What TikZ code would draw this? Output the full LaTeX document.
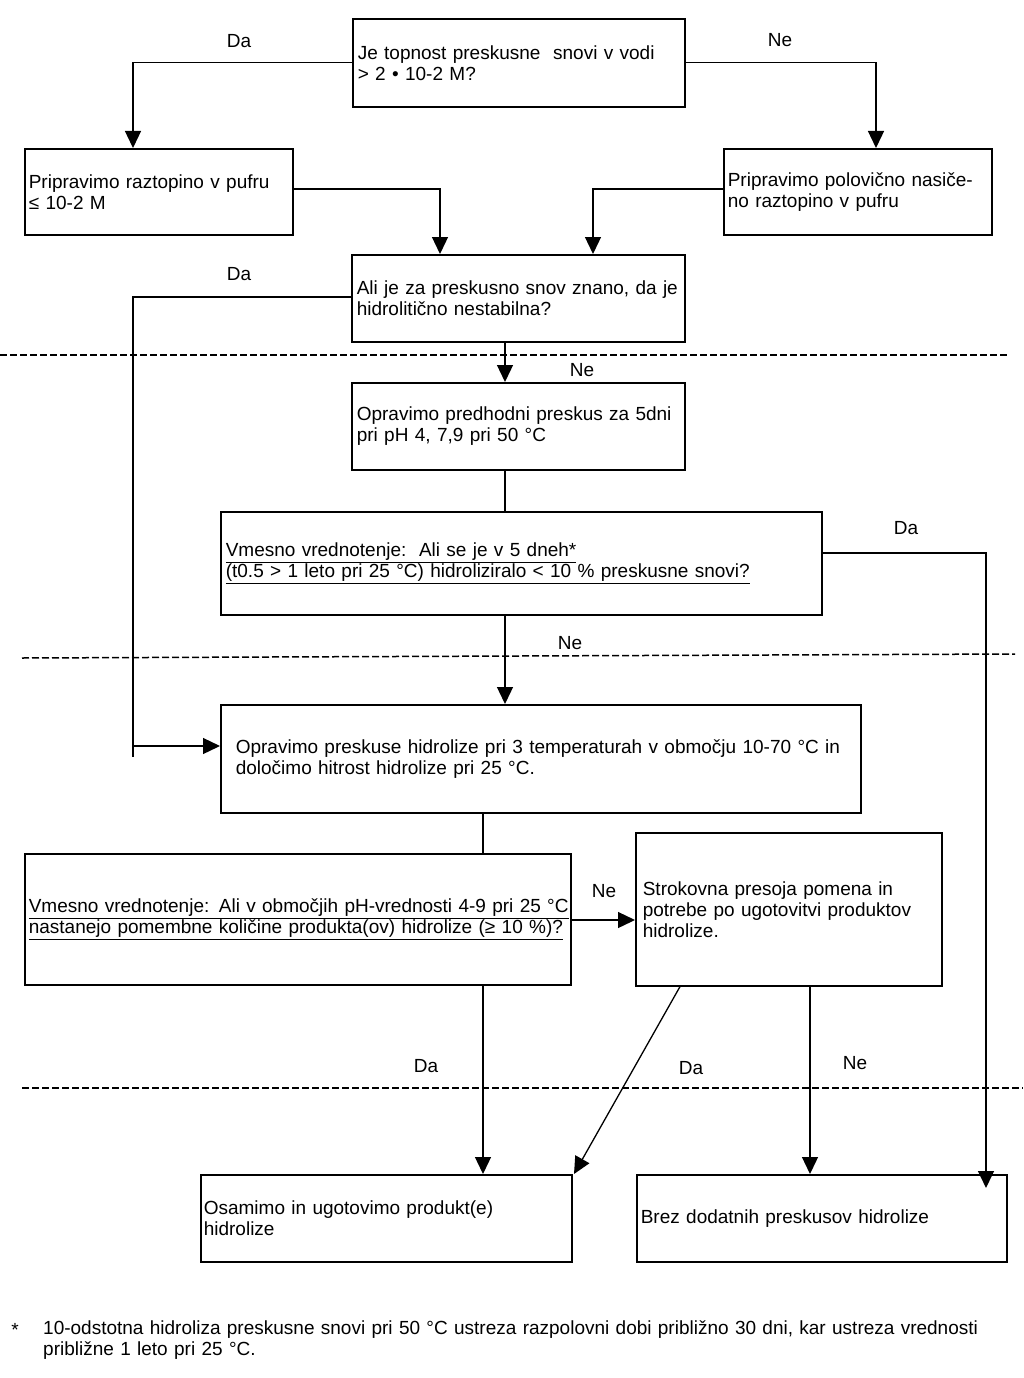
\documentclass[tikz,border=0pt]{standalone}
\usepackage{fontspec}
\setmainfont{Liberation Sans}
\usetikzlibrary{arrows.meta}
\begin{document}
\begin{tikzpicture}[x=1pt,y=-1pt,
  txt/.style={font=\fontsize{19}{21}\selectfont},
  box/.style={txt, draw, line width=1.6pt, rectangle, anchor=north west, align=left, inner ysep=0pt},
  conn/.style={line width=1.3pt},
  arr/.style={conn, -{Triangle[length=17pt,width=16pt]}},
  lab/.style={txt, inner sep=0pt},
  sep/.style={line width=1.5pt, dash pattern=on 7pt off 3pt}]
\useasboundingbox[fill=white] (0,0) rectangle (1023,1378);

% boxes
\node[box, minimum width=332, minimum height=88, inner xsep=5, text width=322] (q1) at (352,18)
  {Je topnost preskusne\ \ snovi v vodi\\> 2 • 10-2 M?};
\node[box, minimum width=268, minimum height=86, inner xsep=4, text width=260] (p1) at (24,148)
  {Pripravimo raztopino v pufru\\≤ 10-2 M};
\node[box, minimum width=268, minimum height=86, inner xsep=4, text width=260] (p2) at (723,148)
  {Pripravimo polovično nasiče-\\no raztopino v pufru};
\node[box, minimum width=333, minimum height=87, inner xsep=5, text width=323] (q2) at (351,254)
  {Ali je za preskusno snov znano, da je\\hidrolitično nestabilna?};
\node[box, minimum width=333, minimum height=87, inner xsep=5, text width=323] (t1) at (351,382)
  {Opravimo predhodni preskus za 5dni\\pri pH 4, 7,9 pri 50 °C};
\node[box, minimum width=601, minimum height=103, inner xsep=5, text width=591] (e1) at (220,511)
  {\mbox{\underline{Vmesno vrednotenje:\ \ Ali se je v 5 dneh*}}\\\mbox{\underline{(t0.5 > 1 leto pri 25 °C) hidroliziralo < 10 \% preskusne snovi?}}};
\node[box, minimum width=640, minimum height=108, inner xsep=15, text width=610] (t2) at (220,704)
  {\mbox{Opravimo preskuse hidrolize pri 3 temperaturah v območju 10-70 °C in}\\določimo hitrost hidrolize pri 25 °C.};
\node[box, minimum width=546, minimum height=131, inner xsep=4, text width=538] (e2) at (24,853)
  {\mbox{\underline{Vmesno vrednotenje: Ali v območjih pH-vrednosti 4-9 pri 25 °C}}\\\mbox{\underline{nastanejo pomembne količine produkta(ov) hidrolize (≥ 10 \%)?}}};
\node[box, minimum width=306, minimum height=153, inner xsep=7, text width=292] (s1) at (635,832)
  {Strokovna presoja pomena in\\potrebe po ugotovitvi produktov\\hidrolize.};
\node[box, minimum width=371, minimum height=87, inner xsep=3, text width=365] (r1) at (200,1174)
  {Osamimo in ugotovimo produkt(e)\\hidrolize};
\node[box, minimum width=370, minimum height=87, inner xsep=4, text width=362] (r2) at (636,1174)
  {Brez dodatnih preskusov hidrolize};

% separators
\draw[sep] (0,355) -- (1010,355);
\draw[sep] (22,658) -- (1015,654);
\draw[sep] (22,1088) -- (1023,1088);

% connectors
\draw[arr] (q1.west) -| ([xshift=109pt]p1.north west);
\draw[arr] (q1.east) -| ([xshift=153pt]p2.north west);
\draw[arr] ([yshift=-41pt]p1.north east) -| ([xshift=89pt]q2.north west);
\draw[arr] ([yshift=-41pt]p2.north west) -| ([xshift=242pt]q2.north west);
\coordinate (lb) at (133,757);
\coordinate (la) at (133,746);
\draw[conn] ([yshift=-43pt]q2.north west) -| (lb);
\draw[arr] (la) -- (la -| t2.west);
\draw[arr] ([xshift=154pt]q2.south west) -- ([xshift=154pt]t1.north west);
\draw[conn] ([xshift=154pt]t1.south west) -- ([xshift=285pt]e1.north west);
\draw[arr] ([xshift=285pt]e1.south west) -- ([xshift=285pt]t2.north west);
\draw[arr] ([yshift=-42pt]e1.north east) -| ([xshift=350pt,yshift=-14pt]r2.north west);
\draw[conn] ([xshift=263pt]t2.south west) -- ([xshift=459pt]e2.north west);
\draw[arr] ([xshift=459pt]e2.south west) -- ([xshift=283pt]r1.north west);
\draw[arr] ([yshift=-67pt]e2.north east) -- ([yshift=-88pt]s1.north west);
\draw[arr] ([xshift=45pt]s1.south west) -- ([xshift=374pt]r1.north west);
\draw[arr] ([xshift=175pt]s1.south west) -- ([xshift=174pt]r2.north west);

% labels
\node[lab] (l1) at (239,41) {Da};
\node[lab] (l2) at (780,40) {Ne};
\node[lab] (l3) at (239,274) {Da};
\node[lab] (l4) at (582,370) {Ne};
\node[lab] (l5) at (906,528) {Da};
\node[lab] (l6) at (570,643) {Ne};
\node[lab] (l7) at (604,891) {Ne};
\node[lab] (l8) at (426,1066) {Da};
\node[lab] (l9) at (691,1068) {Da};
\node[lab] (l10) at (855,1063) {Ne};

% footnote
\node[lab] (fs) at (15,1330) {*};
\node[txt, anchor=north west, inner sep=0pt, align=left, text width=975] (fn) at (43,1320)
  {\mbox{10-odstotna hidroliza preskusne snovi pri 50 °C ustreza razpolovni dobi približno 30 dni, kar ustreza vrednosti}\\približne 1 leto pri 25 °C.};
\end{tikzpicture}
\end{document}
